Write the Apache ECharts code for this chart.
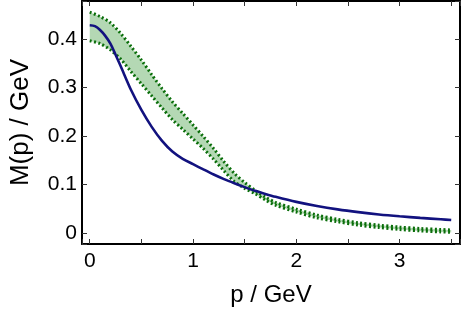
<!DOCTYPE html>
<html>
<head>
<meta charset="utf-8">
<script src="https://cdn.jsdelivr.net/npm/echarts@6/dist/echarts.min.js"></script>
<style>
html,body{margin:0;padding:0;background:#fff;}
#chart{width:463px;height:312px;}
</style>
</head>
<body>
<div id="chart"></div>
<script>
// momentum values (GeV) for the band
const bandP  = [0, 0.1, 0.2, 0.3, 0.4, 0.5, 0.6, 0.7, 0.8, 0.9, 1.0, 1.1, 1.2, 1.3, 1.4, 1.5, 1.6, 1.7, 1.8, 2.0, 2.2, 2.4, 2.6, 2.8, 3.0, 3.2, 3.4, 3.5];
// upper and lower edges of the green band, M(p) in GeV
const bandHi = [0.456, 0.447, 0.434, 0.412, 0.385, 0.357, 0.327, 0.298, 0.271, 0.247, 0.223, 0.199, 0.174, 0.147, 0.123, 0.104, 0.088, 0.074, 0.063, 0.049, 0.037, 0.028, 0.021, 0.016, 0.012, 0.009, 0.007, 0.006];
const bandLo = [0.397, 0.391, 0.378, 0.359, 0.333, 0.308, 0.283, 0.258, 0.234, 0.214, 0.194, 0.174, 0.152, 0.128, 0.106, 0.092, 0.081, 0.068, 0.057, 0.043, 0.031, 0.023, 0.016, 0.011, 0.007, 0.004, 0.002, 0.001];
// blue curve
const blueP = [0, 0.05, 0.1, 0.15, 0.2, 0.25, 0.3, 0.4, 0.5, 0.6, 0.7, 0.8, 0.9, 1.0, 1.1, 1.2, 1.3, 1.4, 1.5, 1.6, 1.7, 1.8, 2.0, 2.2, 2.4, 2.6, 2.8, 3.0, 3.2, 3.4, 3.5];
const blueM = [0.429, 0.427, 0.419, 0.407, 0.391, 0.368, 0.344, 0.295, 0.254, 0.219, 0.190, 0.168, 0.153, 0.142, 0.131, 0.1205, 0.111, 0.1025, 0.0945, 0.087, 0.0805, 0.0745, 0.064, 0.0555, 0.0485, 0.0428, 0.038, 0.0342, 0.031, 0.028, 0.0265];
// axis ticks / labels
const xTickLabels = ['0', '1', '2', '3'];
const yTickLabels = ['0', '0.1', '0.2', '0.3', '0.4'];
const xTitle = 'p / GeV';
const yTitle = 'M(p) / GeV';

const FONT = '"Liberation Sans", Arial, Helvetica, sans-serif';
const pairs = (xs, ys) => xs.map((x, i) => [x, ys[i]]);

function xFmt(v) {
  const r = Math.round(v);
  if (Math.abs(v - r) < 1e-6 && xTickLabels.indexOf(String(r)) >= 0) return String(r);
  return '';
}
function yFmt(v) {
  const r = Math.round(v * 10);
  if (Math.abs(v * 10 - r) < 1e-6) {
    const s = r === 0 ? '0' : (r / 10).toFixed(1);
    if (yTickLabels.indexOf(s) >= 0) return s;
  }
  return '';
}

const X_MIN = -0.075, X_MAX = 3.585, Y_MIN = -0.023, Y_MAX = 0.479;
const axisLine = { show: true, onZero: false, lineStyle: { color: '#000', width: 2 } };
const tick = { show: true, inside: true, length: 5, lineStyle: { color: '#333', width: 1 } };

const bandData = bandP.map((p, i) => [p, bandLo[i], bandHi[i]]);

function renderBand(params, api) {
  if (params.dataIndex !== 0) return null;
  const n = bandData.length;
  const pts = [];
  for (let i = 0; i < n; i++) pts.push(api.coord([bandData[i][0], bandData[i][2]]));
  for (let i = n - 1; i >= 0; i--) pts.push(api.coord([bandData[i][0], bandData[i][1]]));
  return {
    type: 'polygon',
    shape: { points: pts },
    style: { fill: '#b4d8b4', stroke: null },
    silent: true
  };
}

const chart = echarts.init(document.getElementById('chart'), null, { renderer: 'canvas' });
chart.setOption({
  backgroundColor: '#fff',
  animation: false,
  grid: { left: 68, right: 2, top: 1, bottom: 68, containLabel: false },
  xAxis: [
    {
      type: 'value', position: 'bottom', min: X_MIN, max: X_MAX,
      splitNumber: 7, minInterval: 0.5, maxInterval: 0.5,
      axisLine: axisLine, axisTick: tick, splitLine: { show: false },
      axisLabel: { formatter: xFmt, color: '#000', fontSize: 21, fontFamily: FONT, margin: 7 },
      name: xTitle, nameLocation: 'middle', nameGap: 39,
      nameTextStyle: { color: '#000', fontSize: 24, fontFamily: FONT }
    },
    {
      type: 'value', position: 'top', min: X_MIN, max: X_MAX,
      splitNumber: 7, minInterval: 0.5, maxInterval: 0.5,
      axisLine: axisLine, axisTick: tick, splitLine: { show: false },
      axisLabel: { show: false }
    }
  ],
  yAxis: [
    {
      type: 'value', position: 'left', min: Y_MIN, max: Y_MAX,
      splitNumber: 5, minInterval: 0.1, maxInterval: 0.1,
      axisLine: axisLine, axisTick: tick, splitLine: { show: false },
      axisLabel: { formatter: yFmt, color: '#000', fontSize: 21, fontFamily: FONT, margin: 5 },
      name: yTitle, nameLocation: 'middle', nameGap: 48,
      nameTextStyle: { color: '#000', fontSize: 26, fontFamily: FONT }
    },
    {
      type: 'value', position: 'right', min: Y_MIN, max: Y_MAX,
      splitNumber: 5, minInterval: 0.1, maxInterval: 0.1,
      axisLine: axisLine, axisTick: tick, splitLine: { show: false },
      axisLabel: { show: false }
    }
  ],
  series: [
    {
      name: 'band', type: 'custom', data: bandData, renderItem: renderBand,
      encode: { x: 0, y: [1, 2] }, clip: true, z: 1, silent: true
    },
    {
      name: 'upper', type: 'line', data: pairs(bandP, bandHi), symbol: 'none', smooth: 0.3,
      lineStyle: { color: '#0a6e0a', width: 3, type: [2, 2.4] }, z: 3
    },
    {
      name: 'lower', type: 'line', data: pairs(bandP, bandLo), symbol: 'none', smooth: 0.3,
      lineStyle: { color: '#0a6e0a', width: 3, type: [2, 2.4] }, z: 3
    },
    {
      name: 'M', type: 'line', data: pairs(blueP, blueM), symbol: 'none', smooth: 0.3,
      lineStyle: { color: '#12127f', width: 2.6 }, z: 4
    }
  ]
});
</script>
</body>
</html>
